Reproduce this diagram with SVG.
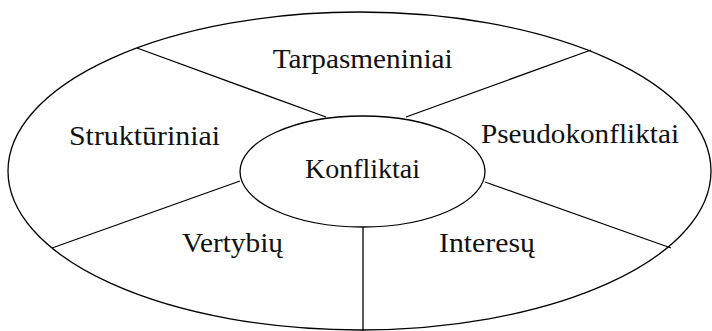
<svg xmlns="http://www.w3.org/2000/svg" width="712" height="331" viewBox="0 0 712 331">
<style>
.shape{fill:none;stroke:#000;stroke-width:1.3}
.lbl{font-family:"Liberation Serif","DejaVu Serif",serif;font-size:28px;fill:#111;text-anchor:middle}
</style>
<rect width="712" height="331" fill="#fff"/>
<g id="outer">
<ellipse class="shape" cx="359.5" cy="171" rx="351.5" ry="159"/>
</g>
<g id="connectors">
<line class="shape" x1="137" y1="48" x2="326" y2="117"/>
<line class="shape" x1="406" y1="117" x2="591" y2="50"/>
<line class="shape" x1="240" y1="181" x2="52" y2="248"/>
<line class="shape" x1="485" y1="182" x2="671" y2="248"/>
<line class="shape" x1="363" y1="227" x2="363" y2="331"/>
</g>
<g id="center">
<ellipse class="shape" cx="362.5" cy="171.5" rx="122.5" ry="55.5" fill="#fff"/>
<text class="lbl" x="362.5" y="178" textLength="115" lengthAdjust="spacingAndGlyphs">Konfliktai</text>
</g>
<g id="tarpasmeniniai">
<text class="lbl" x="362.7" y="68" textLength="180" lengthAdjust="spacingAndGlyphs">Tarpasmeniniai</text>
</g>
<g id="strukturiniai">
<text class="lbl" x="144.5" y="145" textLength="151" lengthAdjust="spacingAndGlyphs">Struktūriniai</text>
</g>
<g id="pseudokonfliktai">
<text class="lbl" x="580" y="143" textLength="198" lengthAdjust="spacingAndGlyphs">Pseudokonfliktai</text>
</g>
<g id="vertybiu">
<text class="lbl" x="232.5" y="252" textLength="101" lengthAdjust="spacingAndGlyphs">Vertybių</text>
</g>
<g id="interesu">
<text class="lbl" x="487" y="252" textLength="96" lengthAdjust="spacingAndGlyphs">Interesų</text>
</g>
</svg>
